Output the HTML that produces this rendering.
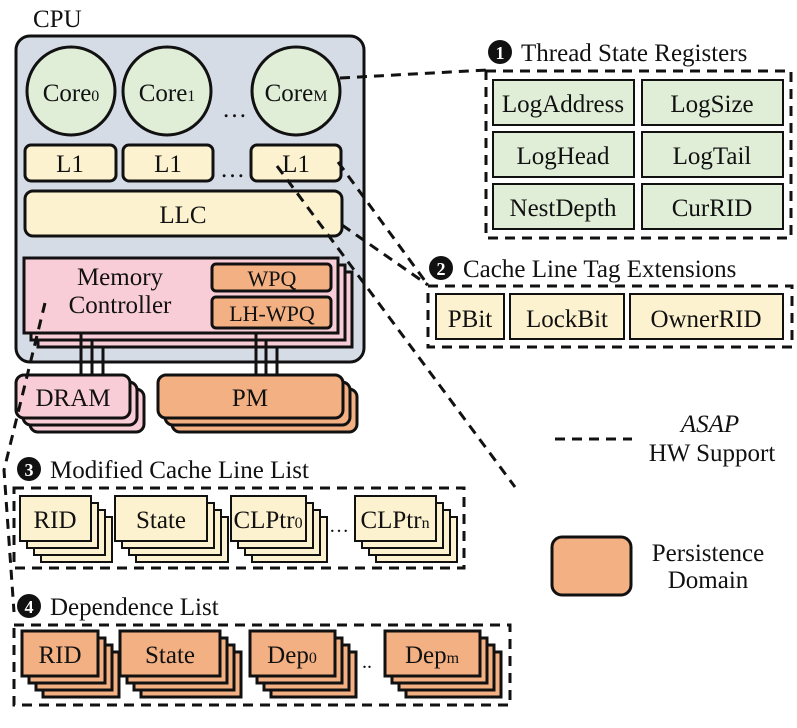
<!DOCTYPE html>
<html><head><meta charset="utf-8"><style>
html,body{margin:0;padding:0;background:#fff}
svg{display:block}
</style></head><body>
<svg width="797" height="728" viewBox="0 0 797 728" xmlns="http://www.w3.org/2000/svg" font-family="'Liberation Serif','DejaVu Serif',serif" font-size="25" fill="#111">
<g stroke="#111" stroke-width="3">
<rect x="16" y="36" width="348" height="326" rx="14" fill="#d6dce6"/>
<circle cx="71" cy="91" r="44" fill="#e0eed8"/>
<circle cx="167" cy="91" r="44" fill="#e0eed8"/>
<circle cx="296" cy="91" r="44" fill="#e0eed8"/>
<rect x="25" y="145" width="91" height="36" rx="6" fill="#fdf2d0"/>
<rect x="123" y="145" width="90" height="36" rx="6" fill="#fdf2d0"/>
<rect x="251" y="145" width="90" height="36" rx="6" fill="#fdf2d0"/>
<rect x="25" y="191" width="317" height="45" rx="8" fill="#fdf2d0"/>
<rect x="38" y="272" width="314" height="75" fill="#f9cdd7"/>
<rect x="31" y="265" width="314" height="75" fill="#f9cdd7"/>
<rect x="24" y="258" width="314" height="75" fill="#f9cdd7"/>
<rect x="212" y="264" width="119" height="27" rx="4" fill="#f3b083"/>
<rect x="212" y="297" width="119" height="31" rx="4" fill="#f3b083"/>
<path d="M81 333V375M92 340V375M103 347V375M256 333V375M266 340V375M277 347V375" fill="none"/>
<rect x="30" y="389" width="114" height="43" rx="8" fill="#f9cdd7"/>
<rect x="23" y="382" width="114" height="43" rx="8" fill="#f9cdd7"/>
<rect x="16" y="375" width="114" height="43" rx="8" fill="#f9cdd7"/>
<rect x="172" y="389" width="185" height="43" rx="8" fill="#f3b083"/>
<rect x="165" y="382" width="185" height="43" rx="8" fill="#f3b083"/>
<rect x="158" y="375" width="185" height="43" rx="8" fill="#f3b083"/>
</g>
<text x="33" y="27">CPU</text>
<text x="71" y="101" text-anchor="middle">Core<tspan font-size="16">0</tspan></text>
<text x="167" y="101" text-anchor="middle">Core<tspan font-size="16">1</tspan></text>
<text x="296" y="101" text-anchor="middle">Core<tspan font-size="16">M</tspan></text>
<text x="222" y="117">…</text>
<text x="70" y="172" text-anchor="middle">L1</text>
<text x="168" y="172" text-anchor="middle">L1</text>
<text x="296" y="172" text-anchor="middle">L1</text>
<text x="220" y="177">…</text>
<text x="183" y="223" text-anchor="middle">LLC</text>
<text x="120" y="285" text-anchor="middle">Memory</text>
<text x="120" y="313" text-anchor="middle">Controller</text>
<text x="272" y="286" text-anchor="middle" font-size="22">WPQ</text>
<text x="272" y="321" text-anchor="middle" font-size="22">LH-WPQ</text>
<text x="73" y="406" text-anchor="middle">DRAM</text>
<text x="250" y="406" text-anchor="middle">PM</text>

<g stroke="#111" stroke-width="3" stroke-dasharray="10,7" fill="none">
<path d="M340 78L487 70"/>
<path d="M338 162L428 285"/>
<path d="M342 225L428 285"/>
<path d="M277 166L515 487"/>
<path d="M45 303L4 470L14 612"/>
<path d="M555 439H632"/>
<rect x="486" y="71" width="305" height="167"/>
<rect x="428" y="286" width="364" height="61"/>
<rect x="14" y="488" width="450" height="80"/>
<rect x="14" y="625" width="496" height="80"/>
</g>

<g stroke="#111" stroke-width="2" fill="#e0eed8">
<rect x="493" y="80" width="141" height="45"/><rect x="642" y="80" width="141" height="45"/>
<rect x="493" y="132" width="141" height="45"/><rect x="642" y="132" width="141" height="45"/>
<rect x="493" y="184" width="141" height="45"/><rect x="642" y="184" width="141" height="45"/>
</g>
<circle cx="500" cy="52" r="12" fill="#111"/><text x="500" y="59" text-anchor="middle" fill="#fff" font-weight="bold" font-size="18">1</text>
<text x="521" y="61">Thread State Registers</text>
<text x="563" y="112" text-anchor="middle">LogAddress</text><text x="712" y="112" text-anchor="middle">LogSize</text>
<text x="563" y="164" text-anchor="middle">LogHead</text><text x="712" y="164" text-anchor="middle">LogTail</text>
<text x="563" y="216" text-anchor="middle">NestDepth</text><text x="712" y="216" text-anchor="middle">CurRID</text>

<g stroke="#111" stroke-width="2" fill="#fdf2d0">
<rect x="436" y="294" width="68" height="45"/><rect x="510" y="294" width="114" height="45"/><rect x="630" y="294" width="153" height="45"/>
</g>
<circle cx="441" cy="268" r="12" fill="#111"/><text x="441" y="275" text-anchor="middle" fill="#fff" font-weight="bold" font-size="18">2</text>
<text x="463" y="277">Cache Line Tag Extensions</text>
<text x="470" y="327" text-anchor="middle">PBit</text><text x="567" y="327" text-anchor="middle">LockBit</text><text x="706" y="327" text-anchor="middle">OwnerRID</text>

<text x="710" y="432" text-anchor="middle" font-style="italic">ASAP</text>
<text x="712" y="461" text-anchor="middle">HW Support</text>
<rect x="552" y="537" width="79" height="58" rx="10" fill="#f3b083" stroke="#111" stroke-width="3"/>
<text x="708" y="561" text-anchor="middle">Persistence</text>
<text x="708" y="588" text-anchor="middle">Domain</text>

<circle cx="29" cy="469" r="12" fill="#111"/><text x="29" y="476" text-anchor="middle" fill="#fff" font-weight="bold" font-size="18">3</text>
<text x="50" y="478">Modified Cache Line List</text>
<g stroke="#111" stroke-width="2" fill="#fdf2d0">
<rect x="41" y="517" width="71" height="45"/><rect x="34" y="510" width="71" height="45"/><rect x="27" y="503" width="71" height="45"/><rect x="20" y="496" width="71" height="45"/>
<rect x="136" y="517" width="92" height="45"/><rect x="129" y="510" width="92" height="45"/><rect x="122" y="503" width="92" height="45"/><rect x="115" y="496" width="92" height="45"/>
<rect x="252" y="517" width="75" height="45"/><rect x="245" y="510" width="75" height="45"/><rect x="238" y="503" width="75" height="45"/><rect x="231" y="496" width="75" height="45"/>
<rect x="376" y="517" width="81" height="45"/><rect x="369" y="510" width="81" height="45"/><rect x="362" y="503" width="81" height="45"/><rect x="355" y="496" width="81" height="45"/>
</g>
<text x="55" y="528" text-anchor="middle">RID</text>
<text x="161" y="528" text-anchor="middle">State</text>
<text x="268" y="528" text-anchor="middle">CLPtr<tspan font-size="16">0</tspan></text>
<text x="395" y="528" text-anchor="middle">CLPtr<tspan font-size="16">n</tspan></text>
<text x="329" y="532" font-size="20">…</text>

<circle cx="29" cy="606" r="12" fill="#111"/><text x="29" y="613" text-anchor="middle" fill="#fff" font-weight="bold" font-size="18">4</text>
<text x="50" y="615">Dependence List</text>
<g stroke="#111" stroke-width="3" fill="#f3b083">
<rect x="43" y="652" width="76" height="45"/><rect x="36" y="645" width="76" height="45"/><rect x="29" y="638" width="76" height="45"/><rect x="22" y="631" width="76" height="45"/>
<rect x="141" y="652" width="100" height="45"/><rect x="134" y="645" width="100" height="45"/><rect x="127" y="638" width="100" height="45"/><rect x="120" y="631" width="100" height="45"/>
<rect x="271" y="652" width="85" height="45"/><rect x="264" y="645" width="85" height="45"/><rect x="257" y="638" width="85" height="45"/><rect x="250" y="631" width="85" height="45"/>
<rect x="406" y="652" width="95" height="45"/><rect x="399" y="645" width="95" height="45"/><rect x="392" y="638" width="95" height="45"/><rect x="385" y="631" width="95" height="45"/>
</g>
<text x="60" y="663" text-anchor="middle">RID</text>
<text x="170" y="663" text-anchor="middle">State</text>
<text x="292" y="663" text-anchor="middle">Dep<tspan font-size="16">0</tspan></text>
<text x="432" y="663" text-anchor="middle">Dep<tspan font-size="16">m</tspan></text>
<text x="362" y="668" font-size="20">..</text>
</svg>
</body></html>
